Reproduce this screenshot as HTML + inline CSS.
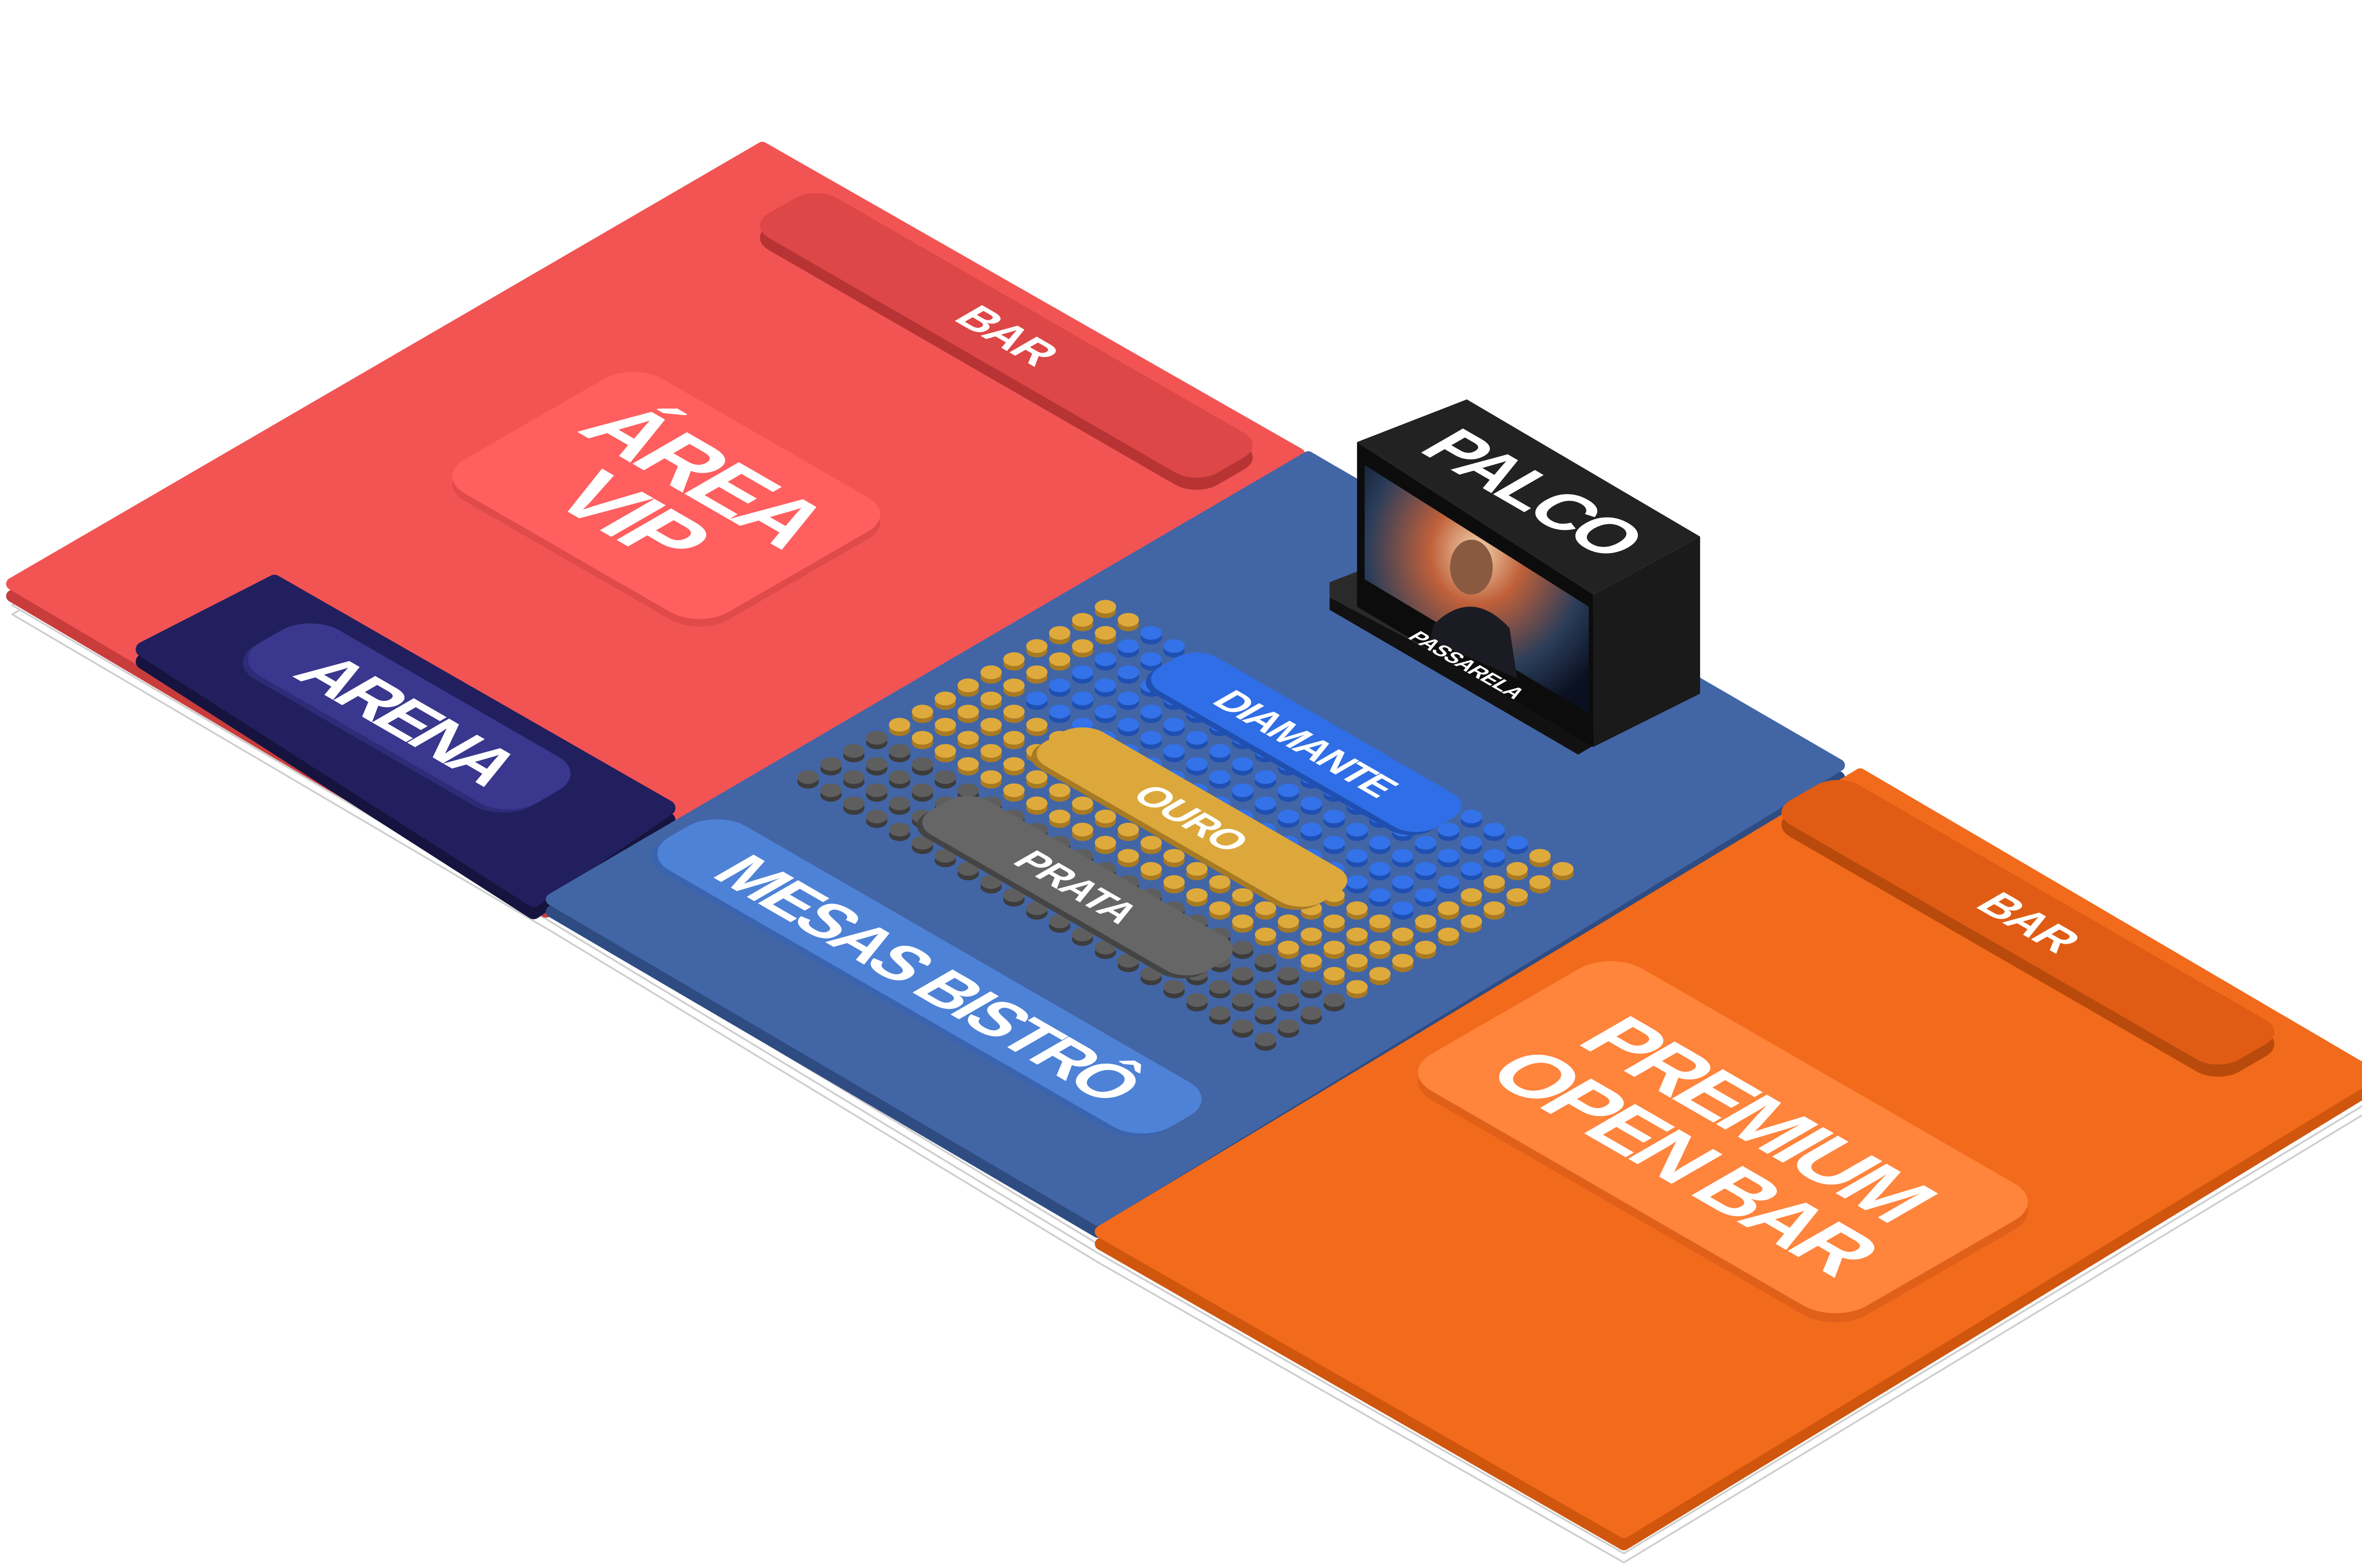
<!DOCTYPE html>
<html><head><meta charset="utf-8"><style>
html,body{margin:0;padding:0;background:#fff;}
svg{display:block;}
text{font-family:"Liberation Sans",sans-serif;font-weight:bold;fill:#fff;}
</style></head><body>
<svg id="s" width="5061" height="3320" viewBox="0 0 1568 1028.6" xmlns="http://www.w3.org/2000/svg">
<defs>
<radialGradient id="stg" cx="0.5" cy="0.35" r="0.7">
<stop offset="0" stop-color="#f2d6b0"/><stop offset="0.3" stop-color="#c0603a"/><stop offset="0.7" stop-color="#2a3d5a"/><stop offset="1" stop-color="#0a1020"/>
</radialGradient>
</defs>
<g stroke-linejoin="round">
<!-- base stack -->
<g fill="#fff" stroke="#cfcfcf" stroke-width="1.2">
<polygon points="8,403 500,117 850,317 860,320 1208,522 1220,528 1560,725 1065,1025 720,828 360,610"/>
<polygon points="8,397 500,111 850,311 860,314 1208,516 1220,522 1560,719 1065,1019 720,822 360,604"/>
<polygon points="8,391 500,105 850,305 860,308 1208,510 1220,516 1560,713 1065,1013 720,816 360,598"/>
</g>
<!-- red -->
<polygon points="500,105 852,306 358,598 8,391" fill="#c93c3c" stroke="#c93c3c" stroke-width="8"/>
<polygon points="500,97 852,298 358,590 8,383" fill="#f25454" stroke="#f25454" stroke-width="8"/>
<!-- arena -->
<polygon points="94,434 180,390 438,538 350,598" fill="#16143f" stroke="#16143f" stroke-width="10"/>
<polygon points="94,426 180,382 438,530 350,590" fill="#221f5e" stroke="#221f5e" stroke-width="10"/>
<!-- blue -->
<polygon points="858,308 1206,510 720,808 362,598" fill="#2f4c82" stroke="#2f4c82" stroke-width="8"/>
<polygon points="858,300 1206,502 720,800 362,590" fill="#4265a6" stroke="#4265a6" stroke-width="8"/>
<!-- orange -->
<polygon points="1220,516 1556,713 1065,1013 722,816" fill="#d0560e" stroke="#d0560e" stroke-width="8"/>
<polygon points="1220,508 1556,705 1065,1005 722,808" fill="#f26a1b" stroke="#f26a1b" stroke-width="8"/>
</g>

<!-- red BAR -->
<g transform="matrix(0.866 0.5 -0.866 0.5 660 228)">
<rect x="-170" y="-26" width="340" height="52" rx="16" fill="#b83434"/>
</g>
<g transform="matrix(0.866 0.5 -0.866 0.5 660 220)">
<rect x="-170" y="-26" width="340" height="52" rx="16" fill="#dd4747"/>
<text x="0" y="10" font-size="30" text-anchor="middle" letter-spacing="-1">BAR</text>
</g>
<!-- AREA VIP -->
<g transform="matrix(0.866 0.5 -0.866 0.5 437 330)">
<rect x="-100" y="-75" width="200" height="150" rx="22" fill="#e04a4a"/>
</g>
<g transform="matrix(0.866 0.5 -0.866 0.5 437 325)">
<rect x="-100" y="-75" width="200" height="150" rx="22" fill="#ff5f5f"/>
<text x="0" y="-8" font-size="60" text-anchor="middle" letter-spacing="-4">ÁREA</text>
<text x="0" y="48" font-size="60" text-anchor="middle" letter-spacing="-4">VIP</text>
</g>
<!-- ARENA -->
<g transform="matrix(0.866 0.5 -0.866 0.5 265 472)">
<rect x="-105" y="-30" width="210" height="60" rx="22" fill="#2e2c78"/>
<rect x="-105" y="-34" width="210" height="60" rx="22" fill="#3a378e"/>
<text x="0" y="14" font-size="46" text-anchor="middle" letter-spacing="-4">ARENA</text>
</g>
<!-- MESAS BISTRO -->
<g transform="matrix(0.866 0.5 -0.866 0.5 607 642)">
<rect x="-190" y="-28" width="380" height="58" rx="22" fill="#3a64b0"/>
<rect x="-190" y="-32" width="380" height="58" rx="22" fill="#4e82d6"/>
<text x="0" y="14" font-size="44" text-anchor="middle" letter-spacing="-3">MESAS BISTRÔ</text>
</g>

<g id="seats"></g>

<!-- DIAMANTE / OURO / PRATA -->
<g transform="matrix(0.866 0.5 -0.866 0.5 855 488)">
<rect x="-105" y="-20" width="210" height="44" rx="16" fill="#1f4fb0"/>
<rect x="-105" y="-24" width="210" height="44" rx="16" fill="#2f6ee6"/>
<text x="0" y="8" font-size="26" text-anchor="middle" letter-spacing="-1.5">DIAMANTE</text>
</g>
<g transform="matrix(0.866 0.5 -0.866 0.5 780 537)">
<rect x="-105" y="-20" width="210" height="44" rx="16" fill="#a87a22"/>
<rect x="-105" y="-24" width="210" height="44" rx="16" fill="#dca83c"/>
<text x="0" y="8" font-size="26" text-anchor="middle" letter-spacing="-1">OURO</text>
</g>
<g transform="matrix(0.866 0.5 -0.866 0.5 705 582)">
<rect x="-105" y="-20" width="210" height="44" rx="16" fill="#444"/>
<rect x="-105" y="-24" width="210" height="44" rx="16" fill="#666"/>
<text x="0" y="8" font-size="26" text-anchor="middle" letter-spacing="-1">PRATA</text>
</g>

<!-- PALCO -->
<polygon points="872,382 890,375 1052,470 1052,485 1035,495 872,400" fill="#111"/>
<polygon points="872,382 890,375 1052,468 1035,478 872,392" fill="#2a2a2a"/>
<polygon points="890,290 1045,390 1045,490 890,398" fill="#0c0c0c"/>
<polygon points="1045,390 1115,352 1115,455 1045,490" fill="#1a1a1a"/>
<polygon points="890,290 962,262 1115,352 1045,390" fill="#222"/>
<polygon points="895,305 1042,398 1042,468 895,380" fill="url(#stg)"/>
<ellipse cx="965" cy="372" rx="14" ry="18" fill="#8a5a40"/>
<path d="M940,410 Q965,385 990,412 L995,445 L938,420 Z" fill="#1b1b24"/>
<g transform="matrix(0.866 0.5 -0.866 0.5 1005 323)">
<text x="0" y="16" font-size="46" text-anchor="middle" letter-spacing="-3">PALCO</text>
</g>
<g transform="matrix(0.866 0.5 -0.866 0.5 962 436)">
<text x="0" y="5" font-size="14" text-anchor="middle" letter-spacing="-0.5">PASSARELA</text>
</g>

<!-- orange BAR -->
<g transform="matrix(0.866 0.5 -0.866 0.5 1330 613)">
<rect x="-170" y="-26" width="340" height="52" rx="16" fill="#b84a0c"/>
</g>
<g transform="matrix(0.866 0.5 -0.866 0.5 1330 605)">
<rect x="-170" y="-26" width="340" height="52" rx="16" fill="#e05c14"/>
<text x="0" y="10" font-size="30" text-anchor="middle" letter-spacing="-1">BAR</text>
</g>
<!-- PREMIUM OPEN BAR -->
<g transform="matrix(0.866 0.5 -0.866 0.5 1130 752)">
<rect x="-165" y="-80" width="330" height="160" rx="24" fill="#e0601a"/>
</g>
<g transform="matrix(0.866 0.5 -0.866 0.5 1130 746)">
<rect x="-165" y="-80" width="330" height="160" rx="24" fill="#ff843c"/>
<text x="0" y="-6" font-size="56" text-anchor="middle" letter-spacing="-4">PREMIUM</text>
<text x="0" y="50" font-size="56" text-anchor="middle" letter-spacing="-4">OPEN BAR</text>
</g>
</svg>
<script>
(function(){
var g=document.getElementById('seats'),ns='http://www.w3.org/2000/svg',list=[];
for(var u=0;u<=20;u++)for(var v=0;v<=13;v++){
 var x=725+15*(u-v),y=398+8.6*(u+v),c;
 if(v>=10)c=['#5e5e5e','#3c3c3c'];
 else if(u<=1||u>=19||v>=6)c=['#dfaa3c','#a87a22'];
 else c=['#3372e8','#1f4fb0'];
 list.push([y,x,c]);
}
list.sort(function(a,b){return a[0]-b[0];});
list.forEach(function(s){
 var e=document.createElementNS(ns,'ellipse');
 e.setAttribute('cx',s[1]);e.setAttribute('cy',s[0]+3);e.setAttribute('rx',7);e.setAttribute('ry',4.5);e.setAttribute('fill',s[2][1]);g.appendChild(e);
 e=document.createElementNS(ns,'ellipse');
 e.setAttribute('cx',s[1]);e.setAttribute('cy',s[0]);e.setAttribute('rx',7);e.setAttribute('ry',4.5);e.setAttribute('fill',s[2][0]);g.appendChild(e);
});
})();
</script>
</body></html>
